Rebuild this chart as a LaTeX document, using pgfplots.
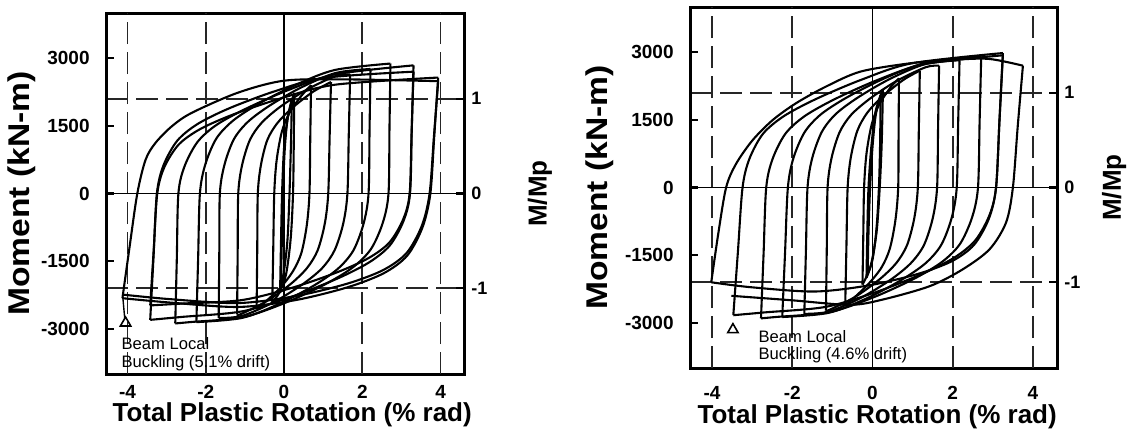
\documentclass[border=0pt]{standalone}
\usepackage{fontspec}
\setmainfont{Liberation Sans}
\usepackage{graphicx}
\usepackage{pgfplots}
\pgfplotsset{compat=1.18}

\pgfplotsset{
  panel/.style={
    scale only axis, anchor=south west,
    xmin=-4.55, xmax=4.6, ymin=-4000, ymax=4000,
    axis line style={line width=1.5pt},
    xtick={-4,-2,0,2,4}, xticklabels={-4,-2,0,2,4},
    ytick={-3000,-1500,0,1500,3000}, yticklabels={-3000,-1500,0,1500,3000},
    ytick pos=left, xtick pos=bottom,
    major x tick style={draw=none},
    major y tick style={line width=1.2pt, black},
    major tick length=4pt,
    ticklabel style={font=\fontsize{9.5}{11}\selectfont\bfseries, inner sep=1pt},
    yticklabel shift=7pt,
    xlabel={Total Plastic Rotation (\% rad)},
    xlabel style={font=\fontsize{13}{15}\selectfont\bfseries, anchor=center, inner sep=0pt},
    ylabel={\scalebox{1.12}[1]{Moment (kN-m)}},
    ylabel style={font=\fontsize{15}{17}\selectfont\bfseries, anchor=center, inner sep=0pt},
  },
  mmp/.style={
    scale only axis, anchor=south west,
    xmin=-4.55, xmax=4.6, ymin=-4000, ymax=4000,
    hide x axis,
    axis line style={line width=1.5pt},
    ytick={-2100,0,2100}, yticklabels={-1,0,1},
    ytick pos=right, yticklabel pos=right,
    major y tick style={line width=1.2pt, black},
    major tick length=4pt,
    ticklabel style={font=\fontsize{9}{11}\selectfont\bfseries, inner sep=1pt},
    yticklabel shift=2.5pt,
    ylabel={M/Mp},
    ylabel style={font=\fontsize{13}{15}\selectfont\bfseries, anchor=center, inner sep=0pt},
  },
  hyst/.style={black, line width=1.05pt, smooth, tension=0.5, mark=none},
}
\tikzset{
  gdash/.style={black!85, line width=0.8pt, dash pattern=on 11pt off 4pt},
  zline/.style={black, line width=0.55pt},
  note/.style={anchor=north west, align=left, inner sep=0pt, font=\fontsize{8.3}{8.8}\selectfont},
}

\begin{document}
\begin{tikzpicture}
\useasboundingbox (0,0) rectangle (564pt,220.5pt);

% ---------------- left specimen ----------------
\begin{axis}[panel, at={(53pt,33.5pt)}, width=179pt, height=180.5pt,
  xticklabel shift=4.5pt,
  xlabel style={at={(axis description cs:0.52,-0.114)}},
  ylabel style={at={(axis description cs:-0.235,0.5)}}]
\draw[gdash] (axis cs:-4,-4000) -- (axis cs:-4,4000);
\draw[gdash] (axis cs:-2,-4000) -- (axis cs:-2,4000);
\draw[gdash] (axis cs:2,-4000) -- (axis cs:2,4000);
\draw[gdash] (axis cs:4,-4000) -- (axis cs:4,4000);
\draw[gdash] (axis cs:-4.55,2100) -- (axis cs:4.6,2100);
\draw[gdash] (axis cs:-4.55,-2100) -- (axis cs:4.6,-2100);
\draw[zline] (axis cs:0,-4000) -- (axis cs:0,4000);
\draw[zline] (axis cs:-4.55,0) -- (axis cs:4.6,0);

\addplot[hyst] coordinates {(-0.08,-2100) (-0.06,-1200) (-0.03,0) (0.02,1000) (0.09,1650) (0.20,2100)};
\addplot[hyst] coordinates {(0.20,2100) (0.18,1200) (0.14,0) (0.09,-1000) (0.01,-1650) (-0.10,-2150)};
\addplot[hyst] coordinates {(-0.10,-2150) (-0.08,-1200) (-0.05,0) (0.0,1000) (0.10,1700) (0.26,2230)};
\addplot[hyst] coordinates {(0.26,2230) (0.25,1200) (0.23,0) (0.17,-1000) (0.05,-1800) (-0.12,-2200) (-0.30,-2400)};
\addplot[hyst] coordinates {(-0.30,-2400) (-0.275,-1200) (-0.25,0) (-0.19,728) (-0.06,1355) (0.13,1773) (0.43,2151) (0.69,2400)};
\addplot[hyst] coordinates {(0.69,2400) (0.67,1200) (0.65,0) (0.58,-713) (0.44,-1326) (0.22,-1734) (-0.11,-2101) (-0.59,-2487) (-0.70,-2550)};
\addplot[hyst] coordinates {(-0.70,-2550) (-0.685,-1275) (-0.67,0) (-0.59,633) (-0.43,1180) (-0.18,1550) (0.20,1890) (0.74,2254) (1.20,2470)};
\addplot[hyst] coordinates {(1.20,2470) (1.165,1235) (1.13,0) (1.04,-675) (0.86,-1258) (0.59,-1649) (0.17,-2005) (-0.44,-2383) (-1.10,-2672) (-1.20,-2680)};
\addplot[hyst] coordinates {(-1.20,-2680) (-1.185,-1340) (-1.17,0) (-1.07,638) (-0.87,1192) (-0.57,1569) (-0.10,1920) (0.58,2301) (1.32,2603) (1.69,2640)};
\addplot[hyst] coordinates {(1.69,2640) (1.655,1320) (1.62,0) (1.51,-677) (1.29,-1262) (0.97,-1658) (0.46,-2020) (-0.27,-2410) (-1.07,-2712) (-1.67,-2760)};
\addplot[hyst] coordinates {(-1.67,-2760) (-1.655,-1380) (-1.64,0) (-1.52,644) (-1.28,1206) (-0.92,1591) (-0.36,1952) (0.44,2351) (1.32,2671) (2.21,2760)};
\addplot[hyst] coordinates {(2.21,2760) (2.185,1380) (2.16,0) (2.03,-677) (1.77,-1265) (1.38,-1665) (0.77,-2036) (-0.11,-2439) (-1.07,-2756) (-2.24,-2850)};
\addplot[hyst] coordinates {(-2.24,-2850) (-2.195,-1425) (-2.15,0) (-2.01,650) (-1.73,1218) (-1.31,1610) (-0.66,1983) (0.28,2399) (1.30,2738) (2.72,2880)};
\addplot[hyst] coordinates {(2.72,2880) (2.695,1440) (2.67,0) (2.52,-659) (2.22,-1233) (1.76,-1636) (1.06,-2007) (0.05,-2415) (-1.06,-2743) (-2.38,-2848) (-2.78,-2880)};
\addplot[hyst] coordinates {(-2.78,-2880) (-2.74,-1440) (-2.70,0) (-2.54,609) (-2.21,1144) (-1.73,1518) (-0.97,1881) (0.11,2293) (1.30,2639) (3.31,2840)};
\addplot[hyst] coordinates {(3.31,2840) (3.265,1420) (3.22,0) (3.05,-616) (2.70,-1155) (2.17,-1529) (1.36,-1886) (0.20,-2285) (-1.08,-2613) (-2.60,-2734) (-3.42,-2800)};
\addplot[hyst] coordinates {(-3.42,-2800) (-3.335,-1400) (-3.25,0) (-3.08,626) (-2.73,1169) (-2.21,1540) (-1.41,1885) (-0.25,2262) (1.02,2562) (3.31,2700)};
\addplot[hyst] coordinates {(3.31,2700) (3.26,1350) (3.21,0) (3.04,-582) (2.69,-1088) (2.16,-1431) (1.35,-1748) (0.19,-2093) (-1.09,-2363) (-2.60,-2439) (-3.42,-2480)};
\addplot[hyst] coordinates {(-3.42,-2480) (-3.33,-1240) (-3.24,0) (-3.06,581) (-2.69,1087) (-2.13,1434) (-1.27,1761) (-0.03,2122) (1.32,2413) (3.94,2570)};
\addplot[hyst] coordinates {(3.94,2570) (3.84,1285) (3.74,0) (3.54,-748) (3.15,-1375) (2.55,-1766) (1.62,-2079) (0.30,-2361) (-1.16,-2514) (-2.88,-2419) (-4.13,-2320)};
\addplot[hyst] coordinates {(-4.13,-2320) (-3.95,-1200) (-3.75,0) (-3.54,744) (-3.29,1117) (-2.87,1488) (-2.36,1787) (-1.18,2234) (0,2500) (1.5,2530) (3.94,2490)};
\addplot[hyst] coordinates {(3.94,2490) (3.83,1245) (3.72,0) (3.52,-719) (3.13,-1321) (2.53,-1698) (1.60,-2002) (0.28,-2275) (-1.18,-2428) (-2.90,-2342) (-4.13,-2240)};
\addplot[black, line width=0.7pt, mark=none] coordinates {(-4.12,-2300) (-4.07,-2780)};

\addplot[only marks, mark=triangle, mark size=3pt, mark options={solid, black, line width=0.8pt, fill=white}] coordinates {(-4.05,-2870)};
\node[note] at (axis cs:-4.16,-3180) {Beam Local\\Buckling (5.1\% drift)};
\end{axis}
\begin{axis}[mmp, at={(53pt,33.5pt)}, width=179pt, height=180.5pt,
  ylabel style={at={(axis description cs:1.212,0.5)}}]
\end{axis}

% ---------------- right specimen ----------------
\begin{axis}[panel, at={(345pt,36.5pt)}, width=183.5pt, height=180.5pt,
  xticklabel shift=8pt,
  xlabel style={at={(axis description cs:0.51,-0.136)}},
  ylabel style={at={(axis description cs:-0.246,0.5)}}]
\draw[gdash] (axis cs:-4,-4000) -- (axis cs:-4,4000);
\draw[gdash] (axis cs:-2,-4000) -- (axis cs:-2,4000);
\draw[gdash] (axis cs:2,-4000) -- (axis cs:2,4000);
\draw[gdash] (axis cs:4,-4000) -- (axis cs:4,4000);
\draw[gdash] (axis cs:-4.55,2100) -- (axis cs:4.6,2100);
\draw[gdash] (axis cs:-4.55,-2100) -- (axis cs:4.6,-2100);
\draw[zline] (axis cs:0,-4000) -- (axis cs:0,4000);
\draw[zline] (axis cs:-4.55,0) -- (axis cs:4.6,0);

\addplot[hyst] coordinates {(-0.12,-1900) (-0.10,-1000) (-0.06,0) (0.0,900) (0.08,1600) (0.20,2050)};
\addplot[hyst] coordinates {(0.20,2050) (0.19,1000) (0.16,0) (0.10,-900) (0.0,-1600) (-0.15,-2000)};
\addplot[hyst] coordinates {(-0.15,-2000) (-0.13,-1000) (-0.10,0) (-0.03,900) (0.08,1700) (0.26,2170)};
\addplot[hyst] coordinates {(0.26,2170) (0.23,1000) (0.18,0) (0.10,-1000) (-0.05,-1750) (-0.25,-2150)};
\addplot[hyst] coordinates {(-0.25,-2150) (-0.23,-1075) (-0.21,0) (-0.15,751) (-0.02,1398) (0.16,1829) (0.45,2218) (0.66,2420)};
\addplot[hyst] coordinates {(0.66,2420) (0.65,1210) (0.64,0) (0.57,-731) (0.43,-1360) (0.22,-1778) (-0.12,-2154) (-0.59,-2548) (-0.68,-2600)};
\addplot[hyst] coordinates {(-0.68,-2600) (-0.65,-1300) (-0.62,0) (-0.54,672) (-0.38,1253) (-0.14,1645) (0.23,2002) (0.77,2385) (1.18,2590)};
\addplot[hyst] coordinates {(1.18,2590) (1.155,1295) (1.13,0) (1.04,-687) (0.86,-1280) (0.59,-1677) (0.17,-2039) (-0.43,-2422) (-1.08,-2714) (-1.16,-2720)};
\addplot[hyst] coordinates {(-1.16,-2720) (-1.14,-1360) (-1.12,0) (-1.02,657) (-0.82,1226) (-0.53,1613) (-0.06,1972) (0.60,2361) (1.33,2667) (1.66,2700)};
\addplot[hyst] coordinates {(1.66,2700) (1.635,1350) (1.61,0) (1.50,-687) (1.28,-1281) (0.95,-1682) (0.44,-2051) (-0.29,-2445) (-1.09,-2751) (-1.70,-2800)};
\addplot[hyst] coordinates {(-1.70,-2800) (-1.66,-1400) (-1.62,0) (-1.50,662) (-1.26,1238) (-0.91,1633) (-0.35,2003) (0.44,2409) (1.31,2734) (2.17,2820)};
\addplot[hyst] coordinates {(2.17,2820) (2.135,1410) (2.10,0) (1.97,-684) (1.71,-1277) (1.32,-1680) (0.71,-2054) (-0.15,-2459) (-1.10,-2778) (-2.25,-2870)};
\addplot[hyst] coordinates {(-2.25,-2870) (-2.18,-1435) (-2.11,0) (-1.97,657) (-1.69,1230) (-1.28,1626) (-0.63,2001) (0.30,2420) (1.32,2761) (2.71,2900)};
\addplot[hyst] coordinates {(2.71,2900) (2.67,1450) (2.63,0) (2.48,-669) (2.18,-1252) (1.73,-1651) (1.03,-2025) (0.02,-2435) (-1.08,-2764) (-2.39,-2868) (-2.78,-2900)};
\addplot[hyst] coordinates {(-2.78,-2900) (-2.715,-1450) (-2.65,0) (-2.49,636) (-2.17,1194) (-1.69,1583) (-0.94,1959) (0.12,2381) (1.30,2735) (3.25,2930)};
\addplot[hyst] coordinates {(3.25,2930) (3.165,1465) (3.08,0) (2.91,-625) (2.56,-1174) (2.04,-1553) (1.24,-1913) (0.09,-2317) (-1.18,-2647) (-2.68,-2767) (-3.47,-2830)};
\addplot[hyst] coordinates {(-3.47,-2830) (-3.355,-1415) (-3.24,0) (-3.07,634) (-2.73,1191) (-2.21,1582) (-1.41,1961) (-0.27,2391) (0.99,2754) (3.25,2980)};
\addplot[hyst] coordinates {(3.25,2980) (3.165,1490) (3.08,0) (2.90,-693) (2.53,-1272) (1.98,-1632) (1.12,-1918) (-0.10,-2170) (-1.45,-2305) (-3.04,-2209) (-4.02,-2100)};
\addplot[hyst] coordinates {(-4.02,-2100) (-3.85,-1050) (-3.65,0) (-3.40,527) (-2.99,1048) (-2.49,1494) (-1.91,1866) (-1.16,2237) (-0.29,2571) (1.00,2760) (2.00,2830) (2.90,2850) (3.75,2700)};
\addplot[hyst] coordinates {(3.75,2700) (3.62,1350) (3.50,0) (3.33,-774) (2.92,-1367) (2.25,-1813) (1.43,-2185) (0.26,-2482) (-0.56,-2600) (-2.00,-2500) (-3.52,-2400)};

\addplot[only marks, mark=triangle, mark size=3pt, mark options={solid, black, line width=0.8pt, fill=white}] coordinates {(-3.48,-3150)};
\node[note] at (axis cs:-2.85,-3150) {Beam Local\\Buckling (4.6\% drift)};
\end{axis}
\begin{axis}[mmp, at={(345pt,36.5pt)}, width=183.5pt, height=180.5pt,
  ylabel style={at={(axis description cs:1.156,0.5)}}]
\end{axis}
\end{tikzpicture}
\end{document}
